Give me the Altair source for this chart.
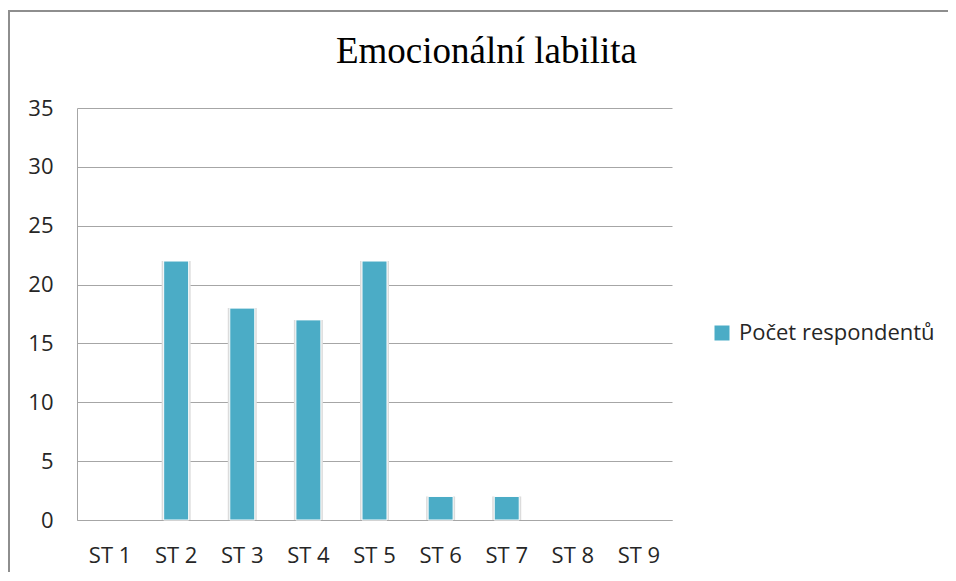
import altair as alt
import pandas as pd

categories = ["ST 1", "ST 2", "ST 3", "ST 4", "ST 5", "ST 6", "ST 7", "ST 8", "ST 9"]
values = [0, 22, 18, 17, 22, 2, 2, 0, 0]
series_name = "Počet respondentů"
y_ticks = [0, 5, 10, 15, 20, 25, 30, 35]

df = pd.DataFrame({"kategorie": categories, "pocet": values, "serie": [series_name] * len(categories)})

W, H = 595, 412
PAD_L, PAD_T, PAD_R, PAD_B = 69, 100, 276, 52

x_enc = alt.X(
    "kategorie:N",
    scale=alt.Scale(domain=categories, paddingInner=0, paddingOuter=0),
    axis=alt.Axis(title=None, labelAngle=0, ticks=False, grid=False, domainColor="#a6a6a6",
                  labelPadding=25, labelFont="Open Sans", labelFontSize=22, labelColor="#262626"),
)
y_enc = alt.Y(
    "pocet:Q",
    scale=alt.Scale(domain=[0, 35], nice=False),
    axis=alt.Axis(title=None, values=y_ticks, ticks=False, grid=True, gridColor="#a6a6a6",
                  domainColor="#a6a6a6", labelPadding=24, labelFont="Open Sans",
                  labelFontSize=22, labelColor="#262626"),
)

base = alt.Chart(df).transform_filter("datum.pocet > 0")

shadow = base.mark_bar(size=29, color="#dcdcdc").encode(x=x_enc, y=y_enc)

bars = base.mark_bar(size=25, stroke="white", strokeWidth=1).encode(
    x=x_enc,
    y=y_enc,
    color=alt.Color(
        "serie:N",
        scale=alt.Scale(domain=[series_name], range=["#4bacc6"]),
        legend=alt.Legend(title=None, orient="none", legendX=634, legendY=214, padding=0,
                          symbolType="square", symbolSize=225, symbolStrokeWidth=0,
                          labelFont="Open Sans", labelFontSize=22, labelColor="#262626",
                          labelOffset=6, labelLimit=400),
    ),
)

frame = alt.Chart(alt.Data(values=[{}])).mark_rect(fill="transparent", stroke="#8e8e8e", strokeWidth=2).encode(
    x=alt.value(-68), x2=alt.value(W + PAD_R + 20), y=alt.value(-97), y2=alt.value(H + PAD_B + 20)
)

chart = alt.layer(frame, shadow, bars).properties(
    width=W,
    height=H,
    padding={"left": PAD_L, "top": PAD_T, "right": PAD_R, "bottom": PAD_B},
    autosize=alt.AutoSizeParams(type="none"),
    title=alt.TitleParams("Emocionální labilita", font="Liberation Serif", fontSize=37,
                          fontWeight="normal", color="black", anchor="middle", frame="group",
                          dx=112, offset=-61),
).configure(background="white").configure_view(strokeWidth=0)

chart.save("out.html", embed_options={"renderer": "svg", "actions": False})
